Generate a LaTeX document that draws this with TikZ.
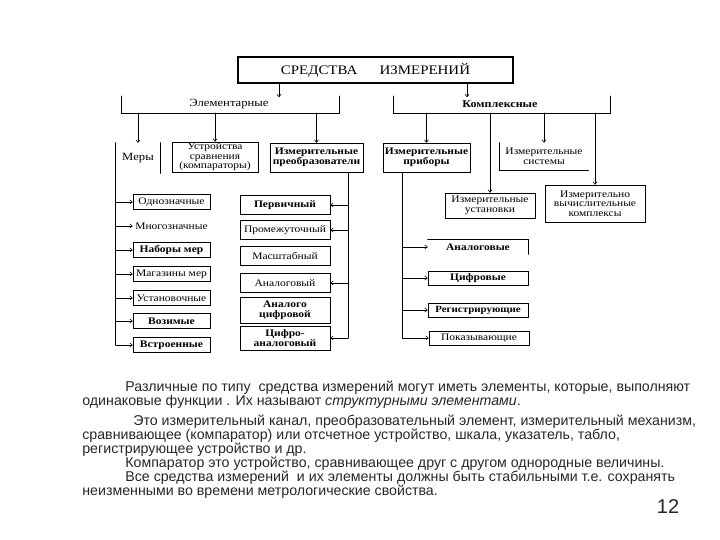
\documentclass[tikz,border=0pt]{standalone}
\usepackage{fontspec}
\setmainfont{Liberation Serif}
\newfontfamily\boxfont[FakeStretch=1.15]{Liberation Serif}
\newfontfamily\textsans{Liberation Sans}
\usetikzlibrary{arrows.meta}

\tikzset{
  box/.style={draw, line width=0.8pt, inner sep=1pt, align=center, font=\boxfont\fontsize{10}{9.6}\selectfont},
  bbox/.style={box, font=\boxfont\bfseries\fontsize{10}{9.6}\selectfont},
  lbox/.style={box, minimum width=77, minimum height=15},
  mbox/.style={box, minimum width=90, minimum height=19},
  rbox/.style={box, minimum width=100, minimum height=14},
  tag/.style={inner sep=1pt, align=center, font=\boxfont\fontsize{11}{11}\selectfont},
  arr/.style={-{To[length=3pt,width=4.5pt]}, line width=0.6pt},
  para/.style={anchor=base west, inner sep=0pt, font=\textsans\fontsize{14.2}{14}\selectfont, text=black!85},
}

\begin{document}
\begin{tikzpicture}[x=1pt, y=-1pt, line cap=round, line width=0.7pt]
\useasboundingbox (0,0) rectangle (720,540);
% ---------- верхний блок ----------
\node[draw, line width=1.6pt, minimum width=275, minimum height=26, font=\boxfont\fontsize{13}{14}\selectfont] (sredstva) at (375.5,70) {СРЕДСТВА\hspace{1.7em}ИЗМЕРЕНИЙ};
\coordinate (elemTop) at (279,97);
\coordinate (kompTop) at (467,97);
\coordinate (bar) at (0,113);
\draw[arr] (sredstva.south -| elemTop) -- (elemTop);
\draw[arr] (sredstva.south -| kompTop) -- (kompTop);
% скобки
\draw (121,96) |- (339,113) -- (339,96);
\node[tag] (elem) at (229,104) {Элементарные};
\draw (393,96) |- (610,113) -- (610,96);
\node[tag, font=\boxfont\bfseries\fontsize{10.5}{11}\selectfont] (komp) at (500,104) {Комплексные};
% ---------- элементарные ----------
\node[tag, minimum width=44, minimum height=30] (mery) at (138,158) {Меры};
\draw (mery.north west) -- (mery.south west) (mery.north east) -- (mery.south east);
\node[box, minimum width=86, minimum height=30] (ustr) at (215,157) {Устройства\\сравнения\\(компараторы)};
\node[bbox, minimum width=93, minimum height=29] (preobr) at (316.5,157.5) {Измерительные\\преобразователи};
\foreach \n in {mery,ustr,preobr}
  \draw[arr] (\n.north |- bar) -- (\n.north);
% меры
\node[lbox] (odn) at (171.5,202) {Однозначные};
\node[lbox, draw=none] (mnog) at (171.5,226) {Многозначные};
\node[lbox, font=\boxfont\bfseries\fontsize{10}{9.6}\selectfont] (nab) at (171.5,250) {Наборы мер};
\node[lbox] (mag) at (171.5,274) {Магазины мер};
\node[lbox] (ust) at (171.5,298) {Установочные};
\node[lbox, font=\boxfont\bfseries\fontsize{10}{9.6}\selectfont] (voz) at (171.5,321) {Возимые};
\node[lbox, font=\boxfont\bfseries\fontsize{10}{9.6}\selectfont] (vstr) at (171.5,345) {Встроенные};
\draw (mery.south west) -- (mery.south west |- vstr.west);
\foreach \n in {odn,mnog,nab,mag,ust,voz,vstr}
  \draw[arr] (mery.south west |- \n.west) -- (\n.west);
% преобразователи
\node[mbox, font=\boxfont\bfseries\fontsize{10}{9.6}\selectfont] (perv) at (285,205) {Первичный};
\node[mbox] (prom) at (285,230) {Промежуточный};
\node[mbox] (masht) at (285,256) {Масштабный};
\node[mbox] (analog) at (285,283) {Аналоговый};
\node[mbox, minimum height=26, font=\boxfont\bfseries\fontsize{10}{9.6}\selectfont] (ancif) at (285,310) {Аналого\\цифровой};
\node[mbox, minimum height=24, font=\boxfont\bfseries\fontsize{10}{9.6}\selectfont] (cifan) at (285,338) {Цифро-\\аналоговый};
\coordinate (pt) at ([xshift=31.5]preobr.south);
\draw (pt) -- (pt |- cifan.east);
\foreach \n in {perv,prom,analog,cifan}
  \draw[arr] (pt |- \n.east) -- (\n.east);
% ---------- комплексные ----------
\node[bbox, minimum width=87, minimum height=29] (pribor) at (426.5,157.5) {Измерительные\\приборы};
\node[box, draw=none, minimum width=88, minimum height=27] (sist) at (544,156.5) {Измерительные\\системы};
\draw (sist.north west) |- (sist.south east);
\node[box, minimum width=90, minimum height=25] (ustan) at (490,205.5) {Измерительные\\установки};
\node[box, minimum width=100, minimum height=37] (ivk) at (595,203.5) {Измерительно\\вычислительные\\комплексы};
\foreach \n in {pribor,sist,ustan,ivk}
  \draw[arr] (\n.north |- bar) -- (\n.north);
% приборы
\node[rbox, draw=none, font=\boxfont\bfseries\fontsize{10}{9.6}\selectfont] (analogs) at (478,247) {Аналоговые};
\draw (analogs.north west) -| (analogs.south east);
\node[rbox, font=\boxfont\bfseries\fontsize{10}{9.6}\selectfont] (cifr) at (478,278) {Цифровые};
\node[rbox, font=\boxfont\bfseries\fontsize{9.5}{9.6}\selectfont] (reg) at (478,310) {Регистрирующие};
\node[rbox] (pokaz) at (479,338) {Показывающие};
\coordinate (prt) at ([xshift=-24]pribor.south);
\draw (prt) -- (prt |- pokaz.west);
\foreach \n in {analogs,cifr,reg,pokaz}
  \draw[arr] (prt |- \n.west) -- (\n.west);
% ---------- текст ----------
\node[para] (p1) at (125,391) {Различные по типу\ \ средства измерений могут иметь элементы, которые, выполняют};
\node[para] (p2) at (82,405) {одинаковые функции . Их называют \textit{структурными элементами}.};
\node[para] (p3) at (133,425) {Это измерительный канал, преобразовательный элемент, измерительный механизм,};
\node[para] (p4) at (82,439) {сравнивающее (компаратор) или отсчетное устройство, шкала, указатель, табло,};
\node[para] (p5) at (82,453) {регистрирующее устройство и др.};
\node[para] (p6) at (125,467) {Компаратор это устройство, сравнивающее друг с другом однородные величины.};
\node[para] (p7) at (125,481) {Все средства измерений\ \ и их элементы должны быть стабильными т.е. сохранять};
\node[para] (p8) at (82,495) {неизменными во времени метрологические свойства.};
\node[font=\textsans\fontsize{20}{22}\selectfont, text=black!85] (page) at (668,507) {12};
\end{tikzpicture}
\end{document}
